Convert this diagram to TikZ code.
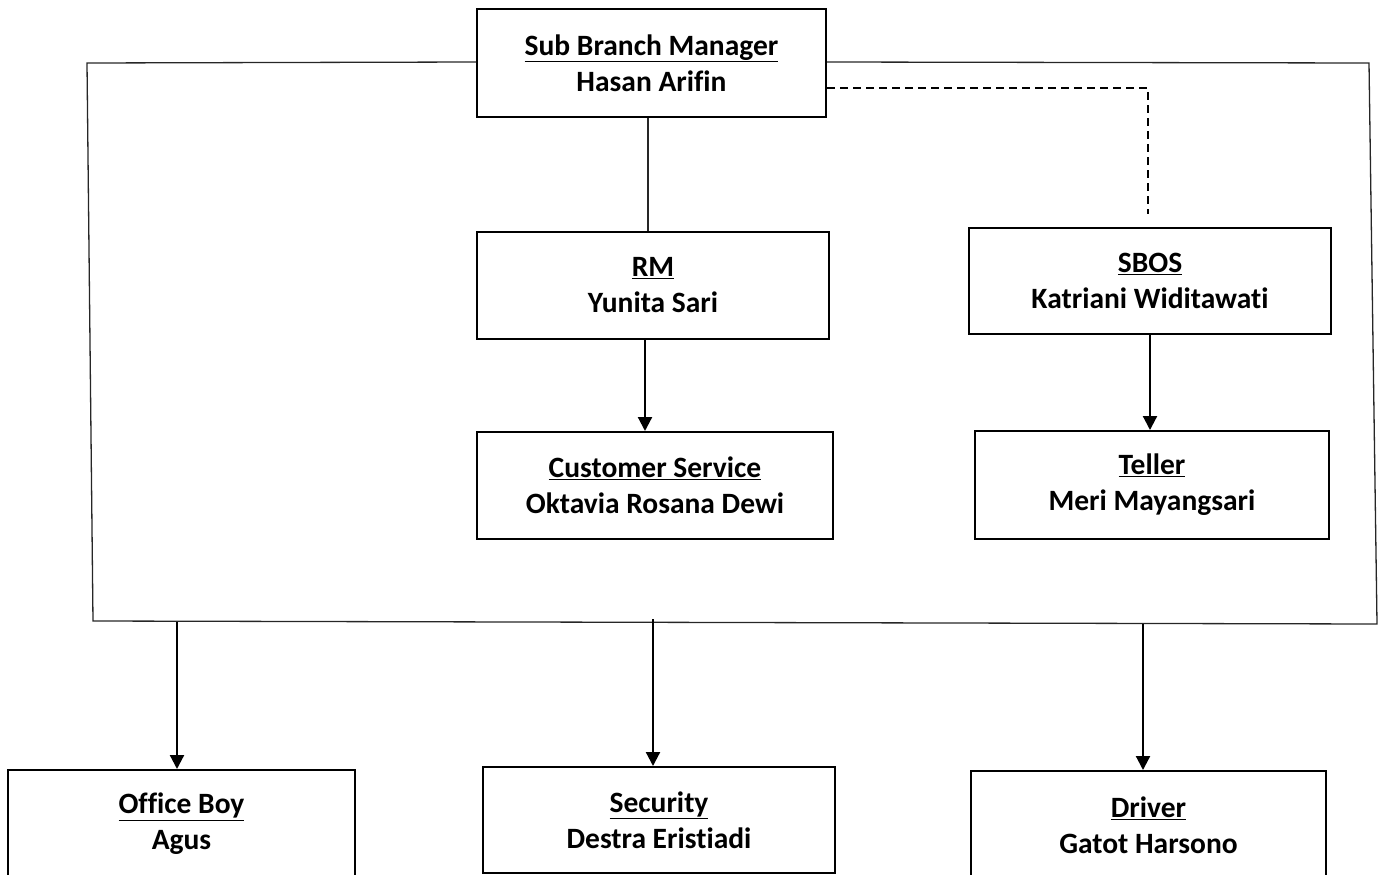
\documentclass[tikz,border=0pt]{standalone}
\usepackage{fontspec}
\setmainfont[Ligatures=NoCommon]{Carlito}
\usetikzlibrary{arrows.meta}
\begin{document}
\begin{tikzpicture}[x=1pt,y=-1pt,
  box/.style={draw,line width=2pt,inner sep=0pt,align=center,font=\bfseries\fontsize{29.5}{36}\selectfont},
  frame/.style={line width=1.3pt,draw=black!85},
  arr/.style={line width=2.2pt,-{Triangle[width=14pt,length=14pt]}},
  dashline/.style={line width=2pt,dash pattern=on 8pt off 5pt}]
\useasboundingbox (0,0) rectangle (1381,875);
\clip (0,0) rectangle (1381,875);
\node[box,minimum width=349pt,minimum height=108pt] (sbm) at (651.5,63) {\underline{Sub Branch Manager}\\Hasan Arifin};
\node[box,minimum width=352pt,minimum height=107pt] (rm) at (653,285.5) {\underline{RM}\\Yunita Sari};
\node[box,minimum width=362pt,minimum height=106pt] (sbos) at (1150,281) {\underline{SBOS}\\Katriani Widitawati};
\node[box,minimum width=356pt,minimum height=107pt] (cs) at (655,485.5) {\underline{Customer Service}\\Oktavia Rosana Dewi};
\node[box,minimum width=354pt,minimum height=108pt] (teller) at (1152,485) {\underline{Teller}\\Meri Mayangsari};
\node[box,minimum width=347pt,minimum height=108pt] (ob) at (181.5,824) {\underline{Office Boy}\\Agus};
\node[box,minimum width=352pt,minimum height=106pt] (sec) at (659,820) {\underline{Security}\\Destra Eristiadi};
\node[box,minimum width=355pt,minimum height=108pt] (drv) at (1148.5,825) {\underline{Driver}\\Gatot Harsono};
% frame
\coordinate (tl) at (87,63);
\coordinate (bl) at (93,621);
\coordinate (br) at (1377,624);
\coordinate (tr) at (1369,63);
\draw[frame] ([yshift=1pt]sbm.west) -- (tl) -- (bl) -- (br) -- (tr) -- ([yshift=1pt]sbm.east);
% sbm to rm
\draw[line width=1.3pt,draw=black!85] ([xshift=-3.5pt]sbm.south) -- ([xshift=-3.5pt]sbm.south |- rm.north);
% dashed
\coordinate (dend) at (1148,214);
\draw[dashline] ([yshift=-25pt]sbm.east) -| (dend);
% arrows
\draw[arr] ([xshift=-8pt]rm.south) -- ([xshift=-8pt]rm.south |- cs.north);
\draw[arr] (sbos.south) -- (sbos.south |- teller.north);
\coordinate (obtop) at (177,622);
\coordinate (sectop) at (653,619);
\coordinate (drvtop) at (1143,624);
\draw[arr] (obtop) -- (obtop |- ob.north);
\draw[arr] (sectop) -- (sectop |- sec.north);
\draw[arr] (drvtop) -- (drvtop |- drv.north);
\end{tikzpicture}
\end{document}
